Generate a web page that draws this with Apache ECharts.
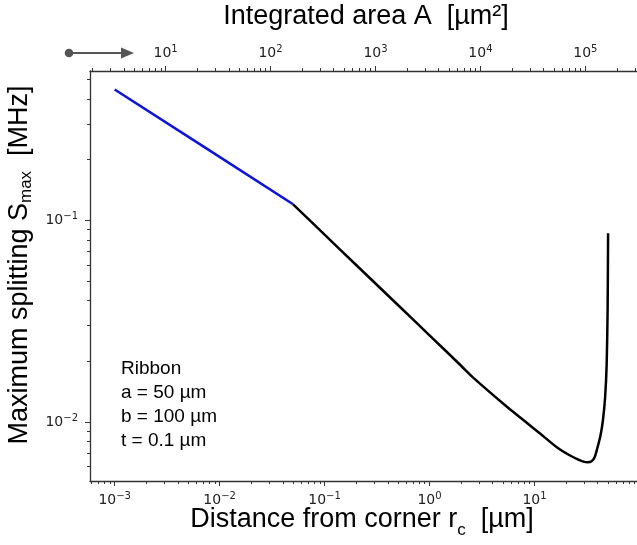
<!DOCTYPE html>
<html>
<head>
<meta charset="utf-8">
<script src="https://cdn.jsdelivr.net/npm/echarts@6/dist/echarts.min.js"></script>
<style>
html, body { margin: 0; padding: 0; background: #fff; }
#chart { width: 637px; height: 545px; }
</style>
</head>
<body>
<div id="chart"></div>
<script>
// distance from corner r_c [um] vs max splitting S_max [MHz]
var blueR = [0.001, 0.0071, 0.0501];
var blueS = [0.445, 0.231, 0.120];
var blackR = [0.0501, 0.1, 0.2, 0.5, 1.0, 2.0, 2.67, 5.5, 8.0, 11.3, 16.2, 21.6, 25.3, 28.8, 32.1, 35.0, 37.4, 39.9, 42.6, 44.9, 47.1, 48.7, 49.75, 50.28];
var blackS = [0.120, 0.0849, 0.0600, 0.0380, 0.0269, 0.0190, 0.0164, 0.01186, 0.01014, 0.00876, 0.00752, 0.00684, 0.00657, 0.00638, 0.00631, 0.00638, 0.00668, 0.00749, 0.00859, 0.0102, 0.01326, 0.0191, 0.0358, 0.0862];

// tick labels
var xMajor = [0.001, 0.01, 0.1, 1, 10];
var areaMajor = [10, 100, 1000, 10000, 100000];
var yMajor = [0.01, 0.1];
var noteLines = ['Ribbon', 'a = 50 µm', 'b = 100 µm', 't = 0.1 µm'];

// axis ranges
var xRange = [0.000582, 94.8];
var areaRange = [1.905, 310500];
var yRange = [0.005098, 0.5495];

function minorTicks(range) {
    var out = [];
    for (var e = -5; e <= 6; e++) {
        for (var k = 2; k <= 9; k++) {
            var v = k * Math.pow(10, e);
            if (v > range[0] && v < range[1]) out.push(v);
        }
    }
    return out;
}

function powLabel(v) {
    var e = Math.round(Math.log10(v));
    return '{b|10}{p|' + String(e).replace('-', '\u2212') + '}';
}

var axisColor = '#333';
var tickRich = {
    b: { fontFamily: 'DejaVu Sans', fontSize: 14, lineHeight: 16, color: '#222' },
    p: { fontFamily: 'DejaVu Sans', fontSize: 10, lineHeight: 12, padding: [0, 0, 7, 0], color: '#222' }
};

function majorAxis(pos, range, ticks, margin) {
    return {
        type: 'log', position: pos, min: range[0], max: range[1],
        axisLine: { show: true, onZero: false, lineStyle: { color: axisColor, width: 1.3 } },
        axisTick: { show: true, customValues: ticks, length: 5, lineStyle: { color: axisColor, width: 1 } },
        axisLabel: { show: true, customValues: ticks, formatter: powLabel, margin: margin, rich: tickRich },
        splitLine: { show: false },
        minorTick: { show: false }
    };
}
function minorAxis(pos, range) {
    return {
        type: 'log', position: pos, min: range[0], max: range[1],
        axisLine: { show: false, onZero: false },
        axisTick: { show: true, customValues: minorTicks(range), length: 3, lineStyle: { color: axisColor, width: 1 } },
        axisLabel: { show: false },
        splitLine: { show: false }
    };
}

var labelFont = 'Liberation Sans';
var mainStyle = { fontFamily: labelFont, fontSize: 27, lineHeight: 30, padding: [0, 0, 20, 0], fill: '#000' };
var subStyle = { fontFamily: labelFont, fontSize: 17, lineHeight: 20, fill: '#000' };
var mainStyleY = { fontFamily: labelFont, fontSize: 27, lineHeight: 30, padding: [0, 0, 12, 0], fill: '#000' };

var option = {
    animation: false,
    grid: { left: 90, top: 71, width: 555, height: 410, containLabel: false },
    xAxis: [
        majorAxis('bottom', xRange, xMajor, 11),
        minorAxis('bottom', xRange),
        majorAxis('top', areaRange, areaMajor, 10),
        minorAxis('top', areaRange)
    ],
    yAxis: [
        majorAxis('left', yRange, yMajor, 12),
        minorAxis('left', yRange)
    ],
    series: [
        {
            type: 'line', xAxisIndex: 0, yAxisIndex: 0, symbol: 'none',
            data: blueR.map(function (r, i) { return [r, blueS[i]]; }),
            lineStyle: { color: '#0a12e8', width: 2.5 }
        },
        {
            type: 'line', xAxisIndex: 0, yAxisIndex: 0, symbol: 'none',
            smooth: 0.25,
            data: blackR.map(function (r, i) { return [r, blackS[i]]; }),
            lineStyle: { color: '#000', width: 2.5 }
        }
    ],
    graphic: [
        {
            type: 'text', x: 366, y: 17,
            style: { text: 'Integrated area A  [µm²]', fontFamily: labelFont, fontSize: 27, fill: '#000', align: 'center', verticalAlign: 'middle' }
        },
        {
            type: 'text', x: 362, y: 515,
            style: {
                text: '{m|Distance from corner r}{s|c}{m|  [µm]}',
                rich: { m: mainStyle, s: subStyle }, align: 'center', verticalAlign: 'top'
            }
        },
        {
            type: 'text', x: 11, y: 265, rotation: Math.PI / 2,
            style: {
                text: '{m|Maximum splitting S}{s|max}{m|  [MHz]}',
                rich: { m: mainStyleY, s: subStyle }, align: 'center', verticalAlign: 'top'
            }
        },
        {
            type: 'text', x: 121, y: 357,
            style: { text: noteLines.join('\n'), fontFamily: labelFont, fontSize: 19, lineHeight: 24, fill: '#000', align: 'left', verticalAlign: 'top' }
        },
        {
            type: 'circle', shape: { cx: 69, cy: 53, r: 4.3 }, style: { fill: '#555' }
        },
        {
            type: 'line', shape: { x1: 69, y1: 53, x2: 124, y2: 53 }, style: { stroke: '#555', lineWidth: 2 }
        },
        {
            type: 'polygon', shape: { points: [[121, 47.5], [134, 53], [121, 58.5]] }, style: { fill: '#555' }
        }
    ]
};

echarts.init(document.getElementById('chart')).setOption(option);
</script>
</body>
</html>
